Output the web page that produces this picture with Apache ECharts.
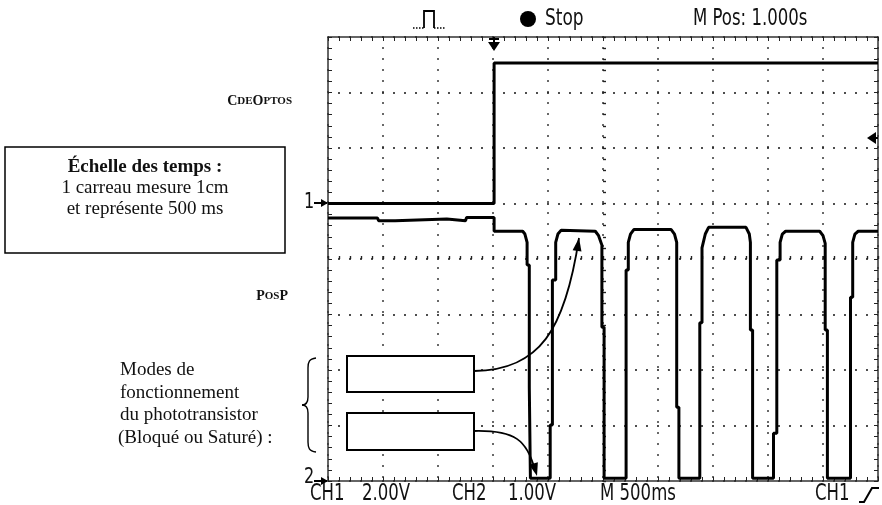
<!DOCTYPE html>
<html><head><meta charset="utf-8">
<script src="https://cdn.jsdelivr.net/npm/echarts@6/dist/echarts.min.js"></script>
<style>html,body{margin:0;padding:0;background:#fff}#c{width:882px;height:505px}</style>
</head><body><div id="c"></div>
<script>
// ---- data (time in seconds, M 500ms/div; voltages in volts) ----
const ch1Time = [0.00, 0.40, 0.41, 0.95, 1.51, 1.51, 2.60, 2.61, 3.20, 3.21, 4.20, 5.00];
const ch1Volt = [0.00, 0.00, -0.06, 0.00, 0.00, 5.06, 5.06, 5.12, 5.06, 5.10, 5.06, 5.06];
const ch2Time = [0.00, 0.45, 0.46, 0.61, 0.62, 1.08, 1.09, 1.25, 1.26, 1.51, 1.51, 1.77, 1.79, 1.81, 1.81, 1.83, 1.83, 1.84, 1.84, 2.02, 2.02, 2.04, 2.04, 2.07, 2.07, 2.09, 2.12, 2.43, 2.46, 2.49, 2.49, 2.51, 2.51, 2.71, 2.71, 2.73, 2.73, 2.75, 2.78, 3.12, 3.15, 3.17, 3.17, 3.19, 3.19, 3.38, 3.38, 3.40, 3.40, 3.43, 3.46, 3.80, 3.83, 3.84, 3.84, 3.86, 3.86, 4.05, 4.05, 4.08, 4.08, 4.11, 4.11, 4.13, 4.16, 4.47, 4.50, 4.52, 4.52, 4.54, 4.54, 4.75, 4.75, 4.77, 4.77, 4.79, 4.82, 5.00];
const ch2Volt = [4.74, 4.74, 4.69, 4.69, 4.72, 4.72, 4.69, 4.69, 4.75, 4.75, 4.50, 4.50, 4.45, 4.30, 3.89, 3.89, 1.69, 1.69, 0.05, 0.05, 1.01, 1.01, 3.62, 3.62, 4.30, 4.45, 4.52, 4.50, 4.42, 4.25, 2.77, 2.77, 0.05, 0.05, 3.80, 3.80, 4.30, 4.45, 4.53, 4.53, 4.45, 4.30, 1.33, 1.33, 0.05, 0.05, 2.85, 2.85, 4.20, 4.45, 4.57, 4.57, 4.45, 4.30, 2.72, 2.72, 0.05, 0.05, 0.86, 0.86, 3.98, 3.98, 4.30, 4.45, 4.50, 4.50, 4.42, 4.28, 2.72, 2.72, 0.05, 0.05, 3.31, 3.31, 4.30, 4.45, 4.50, 4.50];
const ch1VoltsPerDiv = 2.0, ch2VoltsPerDiv = 1.0;   // CH1 2.00V, CH2 1.00V
const ch1GroundDiv = 1.0, ch2GroundDiv = -4.0;      // channel markers "1" and "2"
const timeRange = [0, 5];                            // 10 div x 500 ms
const bottomLabels = ['CH1', '2.00V', 'CH2', '1.00V', 'M 500ms', 'CH1'];
const topLabels = ['Stop', 'M Pos: 1.000s'];

const toDiv = (t, v, g, s) => t.map((x, i) => [x, g + v[i] / s]);

const SCOPE = '"Liberation Sans Narrow","DejaVu Sans Condensed","Roboto Condensed","Arial Narrow",sans-serif';
const SERIF = '"Liberation Serif","Times New Roman",serif';
const INK = '#111';

function frameAxis(extra) {
  return Object.assign({
    type: 'value', axisLabel: {show: false},
    axisLine: {show: true, onZero: false, lineStyle: {color: '#333', width: 1.5}},
    axisTick: {show: true, inside: true, length: 4, lineStyle: {color: '#222', width: 1}},
    minorTick: {show: true, splitNumber: 5, length: 4, lineStyle: {color: '#222', width: 1}},
    splitLine: {show: false}
  }, extra);
}
function crossAxis(extra, inside, zeroIdx) {
  return Object.assign({
    type: 'value', gridIndex: 1, axisLabel: {show: false},
    axisLine: {show: false, onZero: true, onZeroAxisIndex: zeroIdx},
    axisTick: {show: true, inside: inside, length: 3, lineStyle: {color: '#222', width: 1.2}},
    minorTick: {show: true, splitNumber: 5, length: 3, lineStyle: {color: '#222', width: 1.2}},
    splitLine: {show: false}
  }, extra);
}

// arrow helpers (annotation arrows)
function arrowHead(x, y, fx, fy, len, half) {
  const dx = x - fx, dy = y - fy, L = Math.hypot(dx, dy), ux = dx / L, uy = dy / L;
  const bx = x - ux * len, by = y - uy * len;
  return [[x, y], [bx - uy * half, by + ux * half], [bx + uy * half, by - ux * half]];
}
const a1 = {x1: 474, y1: 371, cpx1: 540, cpy1: 370, cpx2: 565, cpy2: 330, x2: 579, y2: 238};
const a2 = {x1: 474, y1: 431, cpx1: 515, cpy1: 430, cpx2: 527, cpy2: 440, x2: 535, y2: 470};

const txt = (text, x, y, font, align) => ({
  type: 'text', z: 100,
  style: {text: text, x: x, y: y, font: font, fill: INK, align: align || 'left', verticalAlign: 'middle'}
});
// condensed oscilloscope-style text
const scopeTxt = (text, x, y, size, sx) => ({
  type: 'text', z: 100, x: x, y: y, scaleX: sx || 0.8,
  style: {text: text, x: 0, y: 0, font: (size || 23) + 'px ' + SCOPE, fill: INK, align: 'left', verticalAlign: 'middle'}
});
const seg = (pts, w) => ({type: 'polyline', z: 100, shape: {points: pts}, style: {stroke: '#000', lineWidth: w || 1.4, fill: null}});
const bez = (s, w) => ({type: 'bezierCurve', z: 100, shape: s, style: {stroke: '#000', lineWidth: w || 1.4, fill: null}});

const graphic = [
  // left annotations
  {type: 'rect', z: 100, shape: {x: 5, y: 147, width: 280, height: 106}, style: {fill: '#fff', stroke: '#000', lineWidth: 1.5}},
  txt('Échelle des temps :', 145, 167, 'bold 19px ' + SERIF, 'center'),
  txt('1 carreau mesure 1cm', 145, 188, '19px ' + SERIF, 'center'),
  txt('et représente 500 ms', 145, 209, '19px ' + SERIF, 'center'),
  {type: 'text', z: 100, style: {text: '{b|C}{s|DE}{b|O}{s|PTOS}', x: 292, y: 101, align: 'right', verticalAlign: 'middle', fill: INK,
    rich: {b: {font: 'bold 14px ' + SERIF, fill: INK}, s: {font: 'bold 11px ' + SERIF, fill: INK}}}},
  {type: 'text', z: 100, style: {text: '{b|P}{s|OS}{b|P}', x: 288, y: 296, align: 'right', verticalAlign: 'middle', fill: INK,
    rich: {b: {font: 'bold 14px ' + SERIF, fill: INK}, s: {font: 'bold 11px ' + SERIF, fill: INK}}}},
  txt('Modes de', 120, 370, '19px ' + SERIF),
  txt('fonctionnement', 120, 393, '19px ' + SERIF),
  txt('du phototransistor', 120, 415, '19px ' + SERIF),
  txt('(Bloqué ou Saturé) :', 118, 438, '19px ' + SERIF),
  // curly brace
  bez({x1: 316, y1: 358, cpx1: 309, cpy1: 359, cpx2: 308, cpy2: 362, x2: 308, y2: 368}),
  seg([[308, 368], [308, 397]]),
  bez({x1: 308, y1: 397, cpx1: 308, cpy1: 402, cpx2: 306, cpy2: 405, x2: 302, y2: 405}),
  bez({x1: 302, y1: 405, cpx1: 306, cpy1: 405, cpx2: 308, cpy2: 408, x2: 308, y2: 413}),
  seg([[308, 413], [308, 442]]),
  bez({x1: 308, y1: 442, cpx1: 308, cpy1: 448, cpx2: 309, cpy2: 451, x2: 316, y2: 452}),
  // boxes in the screen
  {type: 'rect', z: 100, shape: {x: 347, y: 356, width: 127, height: 36}, style: {fill: '#fff', stroke: '#000', lineWidth: 2}},
  {type: 'rect', z: 100, shape: {x: 347, y: 413, width: 127, height: 37}, style: {fill: '#fff', stroke: '#000', lineWidth: 2}},
  bez(a1, 1.8),
  {type: 'polygon', z: 100, shape: {points: arrowHead(a1.x2, a1.y2, a1.cpx2, a1.cpy2, 13, 4.5)}, style: {fill: '#000'}},
  bez(a2, 1.8),
  {type: 'polygon', z: 100, shape: {points: arrowHead(a2.x2 + 2, a2.y2 + 6, a2.cpx2, a2.cpy2, 13, 4.5)}, style: {fill: '#000'}},
  // channel markers
  scopeTxt('1', 304, 203, 21, 0.85),
  seg([[314, 203], [327, 203]], 2),
  {type: 'polygon', z: 100, shape: {points: [[321, 199], [321, 207], [328, 203]]}, style: {fill: '#000'}},
  scopeTxt('2', 304, 478, 21, 0.85),
  seg([[314, 481], [327, 481]], 2),
  {type: 'polygon', z: 100, shape: {points: [[321, 477], [321, 485], [328, 481]]}, style: {fill: '#000'}},
  // trigger position marker (top) and trigger level marker (right)
  seg([[489, 39], [499, 39]], 2),
  {type: 'polygon', z: 100, shape: {points: [[488, 42], [500, 42], [494, 51]]}, style: {fill: '#000'}},
  seg([[494, 37], [494, 44]], 2),
  {type: 'polygon', z: 100, shape: {points: [[867, 138], [876, 132], [876, 144]]}, style: {fill: '#000'}},
  seg([[870, 138], [878, 138]], 2),
  // top status line
  {type: 'polyline', z: 100, shape: {points: [[413, 28], [424, 28]]}, style: {stroke: '#000', lineWidth: 1.5, lineDash: [1.5, 1.5], fill: null}},
  seg([[424, 28], [424, 11], [434, 11], [434, 28]], 1.8),
  {type: 'polyline', z: 100, shape: {points: [[434, 28], [446, 28]]}, style: {stroke: '#000', lineWidth: 1.5, lineDash: [1.5, 1.5], fill: null}},
  {type: 'circle', z: 100, shape: {cx: 528, cy: 19, r: 8}, style: {fill: '#000'}},
  scopeTxt(topLabels[0], 545, 19, 23, 0.82),
  scopeTxt(topLabels[1], 693, 19, 23, 0.8),
  // bottom status line
  scopeTxt(bottomLabels[0], 310, 494),
  scopeTxt(bottomLabels[1], 362, 494),
  scopeTxt(bottomLabels[2], 452, 494),
  scopeTxt(bottomLabels[3], 508, 494),
  scopeTxt(bottomLabels[4], 600, 494),
  scopeTxt(bottomLabels[5], 815, 494),
  seg([[859, 502], [864, 502], [872, 488], [879, 488]], 2)
];

const chart = echarts.init(document.getElementById('c'), null, {renderer: 'canvas'});
chart.setOption({
  animation: false,
  backgroundColor: '#fff',
  grid: [
    {left: 328, top: 37, width: 550, height: 444, show: false},
    {left: 328, top: 37, width: 550, height: 444, show: false}
  ],
  xAxis: [
    frameAxis({gridIndex: 0, min: timeRange[0], max: timeRange[1], interval: 0.5, position: 'bottom',
      splitLine: {show: true, lineStyle: {color: '#222', width: 1.8, type: [1.6, 9.4], dashOffset: 0.8}}}),
    frameAxis({gridIndex: 0, min: timeRange[0], max: timeRange[1], interval: 0.5, position: 'top'}),
    crossAxis({min: -5, max: 5, interval: 1, position: 'bottom'}, true, 2),
    crossAxis({min: -5, max: 5, interval: 1, position: 'top'}, false, 2)
  ],
  yAxis: [
    frameAxis({gridIndex: 0, min: -4, max: 4, interval: 1, position: 'left',
      splitLine: {show: true, lineStyle: {color: '#222', width: 1.8, type: [1.6, 9.4], dashOffset: 0.8}}}),
    frameAxis({gridIndex: 0, min: -4, max: 4, interval: 1, position: 'right'}),
    crossAxis({min: -4, max: 4, interval: 1, position: 'left'}, true, 2),
    crossAxis({min: -4, max: 4, interval: 1, position: 'right'}, false, 2)
  ],
  series: [
    {name: 'CdeOptos', type: 'line', xAxisIndex: 0, yAxisIndex: 0, showSymbol: false, z: 5,
      data: toDiv(ch1Time, ch1Volt, ch1GroundDiv, ch1VoltsPerDiv), lineStyle: {color: '#000', width: 3}},
    {name: 'PosP', type: 'line', xAxisIndex: 0, yAxisIndex: 0, showSymbol: false, z: 5,
      data: toDiv(ch2Time, ch2Volt, ch2GroundDiv, ch2VoltsPerDiv), lineStyle: {color: '#000', width: 3}}
  ],
  graphic: graphic
});
</script>
</body></html>
